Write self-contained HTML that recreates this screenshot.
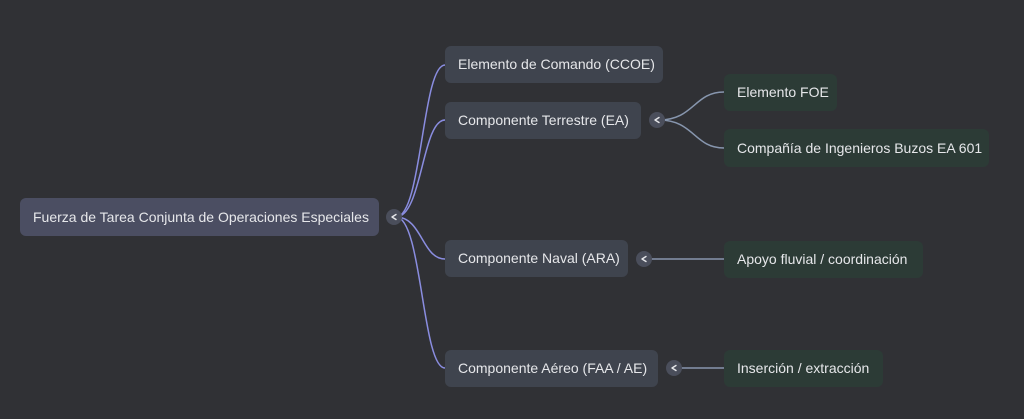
<!DOCTYPE html>
<html>
<head>
<meta charset="utf-8">
<style>
  html,body{margin:0;padding:0;}
  body{width:1024px;height:419px;background:#303135;position:relative;overflow:hidden;
    font-family:"Liberation Sans","Noto Sans CJK JP",sans-serif;}
  .n{position:absolute;box-sizing:border-box;border-radius:6px;color:#e6e7ea;font-size:14px;
    padding-left:13px;white-space:nowrap;}
  .r{background:#4b4e62;}
  .l1{background:#3f444e;}
  .l2{background:#2c3b36;}
  svg{position:absolute;left:0;top:0;}
</style>
</head>
<body>
<svg width="1024" height="419" viewBox="0 0 1024 419">
  <g fill="none" stroke="#8a8de0" stroke-width="1.5">
    <path d="M396,217 C422,217 422,65 445,65"/>
    <path d="M396,217 C422,217 422,120 445,120"/>
    <path d="M396,217 C422,217 422,259 445,259"/>
    <path d="M396,217 C422,217 422,368 445,368"/>
  </g>
  <g fill="none" stroke="#8796ae" stroke-width="1.5">
    <path d="M659,120 C694,120 694,92 724,92"/>
    <path d="M659,120 C694,120 694,148 724,148"/>
    <path d="M646,259 L724,259"/>
    <path d="M676,368 L724,368"/>
  </g>
  <g fill="#4a4e5b">
    <circle cx="394" cy="217" r="8"/>
    <circle cx="657" cy="120" r="8"/>
    <circle cx="644" cy="259" r="8"/>
    <circle cx="674" cy="368" r="8"/>
  </g>
  <g fill="none" stroke="#e6e7ea" stroke-width="1.4" stroke-linecap="round" stroke-linejoin="round">
    <path d="M396,214.5 L392,217 L396,219.5"/>
    <path d="M659,117.5 L655,120 L659,122.5"/>
    <path d="M646,256.5 L642,259 L646,261.5"/>
    <path d="M676,365.5 L672,368 L676,370.5"/>
  </g>
</svg>

<div class="n r" style="left:20px;top:198px;width:359px;height:38px;line-height:38px;">Fuerza de Tarea Conjunta de Operaciones Especiales</div>

<div class="n l1" style="left:445px;top:46px;width:218px;height:37px;line-height:37px;">Elemento de Comando (CCOE)</div>
<div class="n l1" style="left:445px;top:102px;width:196px;height:37px;line-height:37px;">Componente Terrestre (EA)</div>
<div class="n l1" style="left:445px;top:240px;width:183px;height:37px;line-height:37px;">Componente Naval (ARA)</div>
<div class="n l1" style="left:445px;top:350px;width:213px;height:37px;line-height:37px;">Componente Aéreo (FAA / AE)</div>

<div class="n l2" style="left:724px;top:74px;width:113px;height:37px;line-height:37px;">Elemento FOE</div>
<div class="n l2" style="left:724px;top:129px;width:265px;height:38px;line-height:38px;">Compañía de Ingenieros Buzos EA 601</div>
<div class="n l2" style="left:724px;top:241px;width:199px;height:37px;line-height:37px;">Apoyo fluvial / coordinación</div>
<div class="n l2" style="left:724px;top:350px;width:159px;height:37px;line-height:37px;">Inserción / extracción</div>
</body>
</html>
